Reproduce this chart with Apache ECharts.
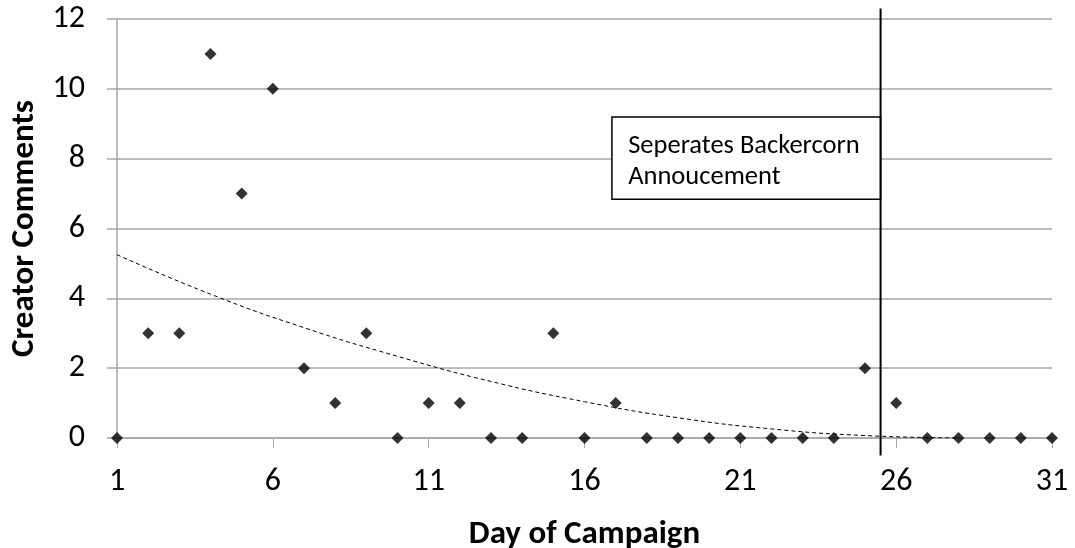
<!DOCTYPE html>
<html><head><meta charset="utf-8">
<script src="https://cdn.jsdelivr.net/npm/echarts@6/dist/echarts.min.js"></script>
<style>html,body{margin:0;padding:0;background:#fff}#c{width:1075px;height:548px}</style>
</head><body><div id="c"></div>
<script>
const days = [1,2,3,4,5,6,7,8,9,10,11,12,13,14,15,16,17,18,19,20,21,22,23,24,25,26,27,28,29,30,31];
const comments = [0,3,3,11,7,10,2,1,3,0,1,1,0,0,3,0,1,0,0,0,0,0,0,0,2,1,0,0,0,0,0];
const trendDays = [1,4,7,10,13,16,19,22,25,28];
const trendValues = [5.25,4.12,3.16,2.34,1.62,1.04,0.58,0.26,0.07,0];
const separatorDay = 25.5;
const separatorSpan = [-0.5, 12.3];
const boxCorners = [[16.88, 9.19], [25.5, 6.84]];
const boxText = 'Seperates Backercorn\nAnnoucement';
const xTicks = {min: 1, max: 31, interval: 5};
const yTicks = {min: 0, max: 12, interval: 2};

const FONT = 'Carlito, Calibri, "Liberation Sans", sans-serif';
const chart = echarts.init(document.getElementById('c'), null, {renderer: 'canvas'});
chart.setOption({
  animation: false,
  backgroundColor: '#fff',
  grid: {left: 117, right: 23, top: 19, bottom: 110, containLabel: false, outerBoundsMode: 'none'},
  xAxis: {
    type: 'value', min: xTicks.min, max: xTicks.max, interval: xTicks.interval,
    name: 'Day of Campaign', nameLocation: 'middle', nameGap: 80,
    nameTextStyle: {fontFamily: FONT, fontSize: 33, fontWeight: 'bold', color: '#000'},
    axisLine: {show: true, lineStyle: {color: '#a6a6a6', width: 1.5}},
    axisTick: {show: true, length: 10, lineStyle: {color: '#a6a6a6', width: 1}},
    axisLabel: {margin: 28, fontFamily: FONT, fontSize: 32, color: '#000'},
    splitLine: {show: false}
  },
  yAxis: {
    type: 'value', min: yTicks.min, max: yTicks.max, interval: yTicks.interval,
    name: 'Creator Comments', nameLocation: 'middle', nameGap: 74,
    nameTextStyle: {fontFamily: FONT, fontSize: 33, fontWeight: 'bold', color: '#000'},
    axisLine: {show: true, lineStyle: {color: '#a6a6a6', width: 1.5}},
    axisTick: {show: true, length: 10, lineStyle: {color: '#a6a6a6', width: 1.5}},
    axisLabel: {margin: 32, fontFamily: FONT, fontSize: 32, color: '#000'},
    splitLine: {show: true, lineStyle: {color: '#a6a6a6', width: 1.5}}
  },
  series: [
    {
      type: 'line', data: trendDays.map((d, i) => [d, trendValues[i]]),
      smooth: true, symbol: 'none', z: 3,
      lineStyle: {color: '#000', width: 1, type: [4, 3]}
    },
    {
      type: 'line', data: separatorSpan.map(v => [separatorDay, v]),
      symbol: 'none', clip: false, z: 4,
      lineStyle: {color: '#000', width: 2}
    },
    {
      type: 'scatter', data: days.map((d, i) => [d, comments[i]]),
      symbol: 'diamond', symbolSize: 12, z: 5, clip: false,
      itemStyle: {color: '#000'},
      markArea: {
        silent: true,
        itemStyle: {color: '#fff', borderColor: '#000', borderWidth: 1.5, opacity: 1},
        label: {show: true, position: 'insideTopLeft', distance: 0, padding: [15, 0, 0, 17],
          formatter: boxText, fontFamily: FONT, fontSize: 26.5, lineHeight: 31, color: '#000'},
        data: [[{coord: boxCorners[0]}, {coord: boxCorners[1]}]]
      }
    }
  ]
});
</script></body></html>
